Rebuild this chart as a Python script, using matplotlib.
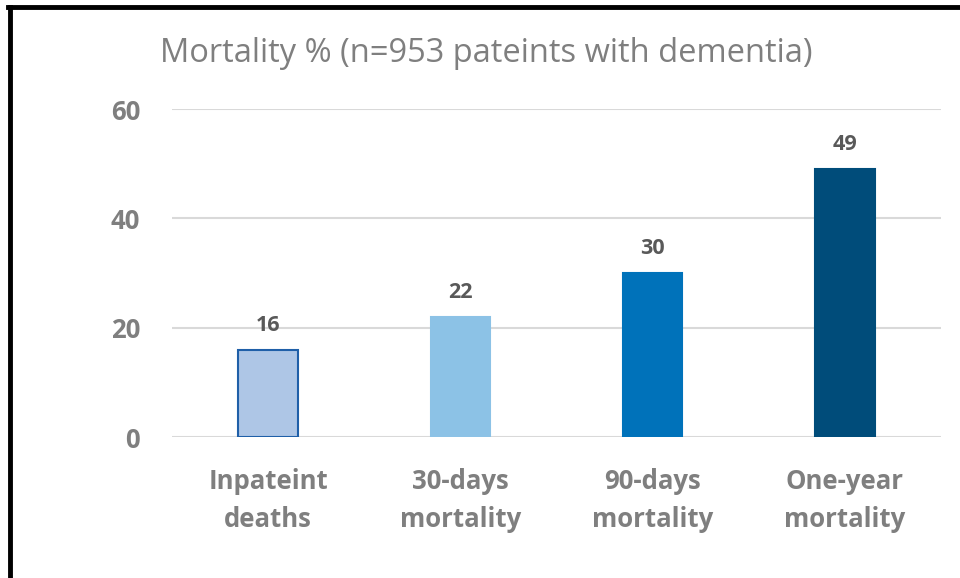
import matplotlib.pyplot as plt
from matplotlib.lines import Line2D

# data
categories = ['Inpateint\ndeaths', '30-days\nmortality', '90-days\nmortality', 'One-year\nmortality']
mortality = [16, 22, 30, 49]
labels = ['16', '22', '30', '49']
colors = ['#AEC6E6', '#8CC2E6', '#0072BA', '#004C7A']
edges = ['#1F5FA8', '#8CC2E6', '#0072BA', '#004C7A']

plt.rcParams['font.family'] = ['Open Sans', 'DejaVu Sans']

fig = plt.figure(figsize=(9.6, 5.78), dpi=100)
ax = fig.add_axes([172 / 960, 1 - 437 / 578, (941 - 172) / 960, (437 - 109) / 578])

x = range(len(categories))
ax.bar(x, mortality, width=0.31, color=colors, edgecolor=edges, linewidth=1.5, zorder=3)
for i, (v, t) in enumerate(zip(mortality, labels)):
    ax.text(i, v + 2.5, t, ha='center', va='bottom', fontsize=15.5, fontweight='bold', color='#595959')

ax.set_xlim(-0.5, 3.5)
ax.set_ylim(0, 60)
ax.set_yticks([0, 20, 40, 60])
ax.set_xticks(list(x))
ax.set_xticklabels(categories, fontsize=18.5, fontweight='bold', color='#7F7F7F', linespacing=1.55)
for lab in ax.get_yticklabels():
    lab.set_fontsize(18.5)
    lab.set_fontweight('bold')
    lab.set_color('#7F7F7F')
ax.tick_params(axis='both', length=0)
ax.tick_params(axis='y', pad=23)
ax.tick_params(axis='x', pad=22)
ax.grid(axis='y', color='#D9D9D9', linewidth=1.5, zorder=0)
for s in ax.spines.values():
    s.set_visible(False)

fig.text(160 / 960, 1 - 53 / 578, 'Mortality % (n=953 pateints with dementia)',
         fontsize=23.5, color='#7F7F7F', ha='left', va='center')

# black frame on the left and top edges only
fig.add_artist(Line2D([10 / 960, 10 / 960], [0, 1 - 7 / 578], color='black', linewidth=3.5,
                      transform=fig.transFigure))
fig.add_artist(Line2D([8 / 960, 1], [1 - 7 / 578, 1 - 7 / 578], color='black', linewidth=3.5,
                      transform=fig.transFigure))

fig.savefig('out.png', dpi=100)
